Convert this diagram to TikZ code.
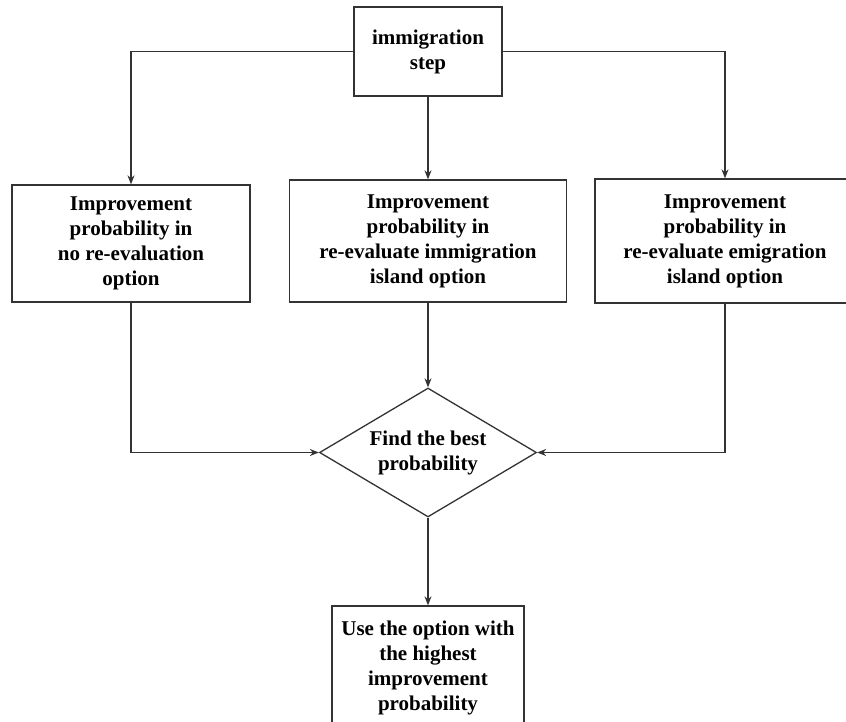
\documentclass[tikz,border=0pt]{standalone}
\usepackage{fontspec}
\setmainfont{Liberation Serif}
\usetikzlibrary{shapes.geometric,arrows.meta}

\begin{document}
\begin{tikzpicture}[x=1pt,y=-1pt]
\tikzstyle{every node}+=[inner sep=0pt, font=\fontsize{21}{25}\selectfont\bfseries, align=center]
\tikzstyle{stepbox}=[draw=black!80, line width=1.3pt]
\tikzstyle{arr}=[draw=black!80, line width=1.3pt, -{Stealth[length=9pt,width=7pt]}]
\useasboundingbox (0,0) rectangle (846,722);
\node [stepbox, minimum width=148pt, minimum height=89pt] (imm) at (428,51.5) {immigration\\step};
\node [stepbox, minimum width=238pt, minimum height=117pt] (noeval) at (131,243.5) {Improvement\\probability in\\no re-evaluation\\option};
\node [stepbox, minimum width=277pt, minimum height=122pt] (immeval) at (428,241) {Improvement\\probability in\\re-evaluate immigration\\island option};
\node [stepbox, minimum width=260pt, minimum height=124pt] (emieval) at (725,241) {Improvement\\probability in\\re-evaluate emigration\\island option};
\node [stepbox, diamond, shape aspect=1.68, minimum width=217pt, minimum height=129pt] (best) at (428,452.5) {Find the best\\probability};
\node [stepbox, minimum width=192pt, minimum height=124pt] (use) at (428,668) {Use the option with\\the highest\\improvement\\probability};
\draw [arr] (imm.west) -| (noeval.north);
\draw [arr] (imm.east) -| (emieval.north);
\draw [arr] (imm.south) -- (immeval.north);
\draw [arr] (noeval.south) |- (best.west);
\draw [arr] (emieval.south) |- (best.east);
\draw [arr] (immeval.south) -- (best.north);
\draw [arr] (best.south) -- (use.north);
\end{tikzpicture}
\end{document}
